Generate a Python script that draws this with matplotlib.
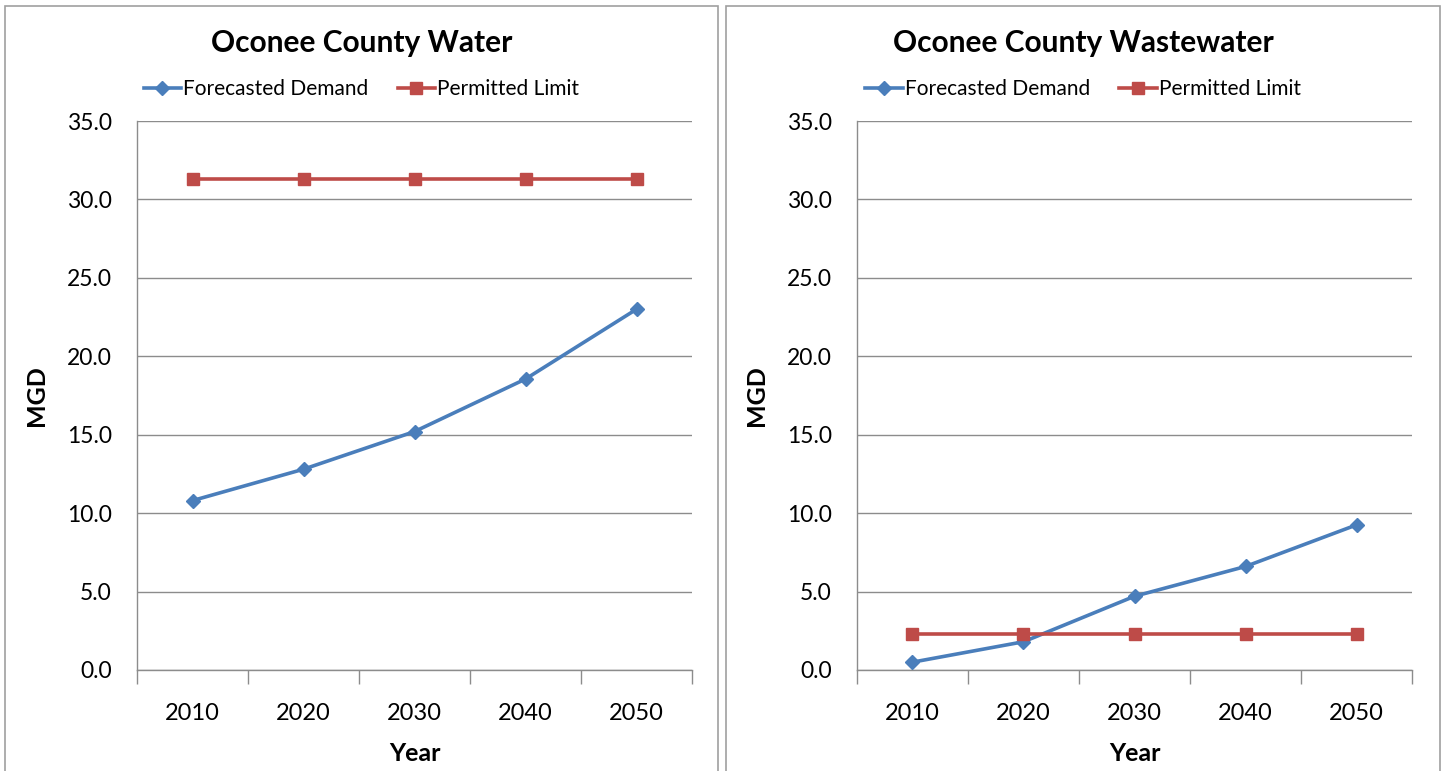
import numpy as np
import matplotlib.pyplot as plt
from matplotlib.patches import Rectangle

plt.rcParams['font.family'] = ['Lato', 'DejaVu Sans']

years = ['2010', '2020', '2030', '2040', '2050']
water_demand = [10.8, 12.8, 15.2, 18.55, 23.0]
water_limit = [31.3, 31.3, 31.3, 31.3, 31.3]
waste_demand = [0.5, 1.8, 4.7, 6.6, 9.25]
waste_limit = [2.3, 2.3, 2.3, 2.3, 2.3]
titles = ['Oconee County Water', 'Oconee County Wastewater']

W, H = 1442, 771
fig = plt.figure(figsize=(W / 100, H / 100), dpi=100)

blue = '#4a7ebb'
red = '#be4b48'
grid_c = '#8c8c8c'

panels = [(5, 718), (726, 1440)]
plot_x = [137, 857]
plot_w = 555
top, bottom = 121, 670

for k, (demand, limit) in enumerate([(water_demand, water_limit), (waste_demand, waste_limit)]):
    x0, x1 = panels[k]
    fig.patches.append(Rectangle((x0 / W, -0.01), (x1 - x0) / W, 1 - 6 / H + 0.01,
                                 transform=fig.transFigure, fill=False,
                                 edgecolor='#a0a0a0', lw=1.2))
    ax = fig.add_axes([plot_x[k] / W, 1 - bottom / H, plot_w / W, (bottom - top) / H])
    x = np.arange(len(years))
    ax.plot(x, demand, color=blue, lw=2.6, marker='D', ms=7, mec=blue, mfc=blue,
            label='Forecasted Demand', zorder=3)
    ax.plot(x, limit, color=red, lw=2.6, marker='s', ms=9, mec=red, mfc=red,
            label='Permitted Limit', zorder=3)
    ax.set_xlim(-0.5, 4.5)
    ax.set_ylim(0, 35)
    ax.set_yticks(np.arange(0, 35.1, 5))
    ax.set_yticklabels(['%.1f' % v for v in np.arange(0, 35.1, 5)])
    ax.set_xticks(np.arange(-0.5, 4.6, 1))
    ax.set_xticklabels([])
    ax.set_xticks(x, minor=True)
    ax.set_xticklabels(years, minor=True)
    ax.tick_params(axis='x', which='major', length=10, width=1, color=grid_c, direction='out')
    ax.tick_params(axis='x', which='minor', length=0, pad=24, labelsize=17)
    ax.tick_params(axis='y', length=0, pad=18, labelsize=16.5)
    ax.grid(axis='y', color=grid_c, lw=1)
    ax.set_axisbelow(True)
    for s in ['top', 'right']:
        ax.spines[s].set_visible(False)
    for s in ['left', 'bottom']:
        ax.spines[s].set_color(grid_c)
        ax.spines[s].set_linewidth(1)
    ax.set_xlabel('Year', fontsize=18, fontweight='bold', labelpad=13)
    ax.set_ylabel('MGD', fontsize=18, fontweight='bold', labelpad=14)
    # title and legend are centred on the whole panel, not the plot area
    cx = ((x0 + x1) / 2 - plot_x[k]) / plot_w
    ax.set_title(titles[k], fontsize=21.5, fontweight='bold', pad=50, x=cx)
    ax.legend(loc='lower center', bbox_to_anchor=(cx, 1.006), ncol=2, frameon=False,
              fontsize=15, handlelength=1.8, handletextpad=0.1, columnspacing=1.4)

fig.savefig('out.png', dpi=100)
